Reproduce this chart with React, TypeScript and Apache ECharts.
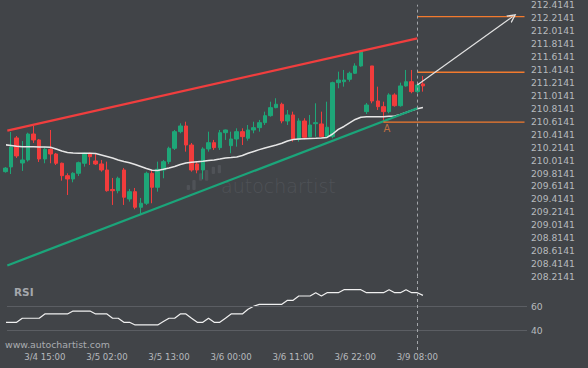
import React, { useEffect, useRef } from "react";
import * as echarts from "echarts";

// ---------- data ----------
const OFFSET = 0.0141; // tick labels are n*0.2 + 0.0141
const PRICE_MIN = 208.2141;
const PRICE_MAX = 212.4141;
const PRICE_STEP = 0.2;

const SESSIONS: Array<[number, number, number]> = [
  [4, 8, 23],
  [5, 0, 23],
  [6, 0, 23],
  [8, 23, 23],
  [9, 0, 9],
];
const times: string[] = [];
SESSIONS.forEach(([d, h0, h1]) => {
  for (let h = h0; h <= h1; h++) times.push(`3/${d} ${String(h).padStart(2, "0")}:00`);
});
const LABEL_INDEX = [7, 18, 29, 40, 51, 62, 73];

const opens = [
  209.835, 209.908, 210.356, 209.969, 210.016, 210.417, 210.325, 210.031, 210.181, 210.108,
  209.965, 209.773, 209.722, 209.81, 209.965, 210.119, 210.0, 209.954, 209.861, 209.56,
  209.541, 209.861, 209.413, 209.526, 209.285, 209.347, 209.81, 209.594, 209.861, 209.99,
  210.196, 210.453, 210.541, 210.247, 209.954, 209.861, 210.186, 210.283, 210.206, 210.437,
  210.237, 210.34, 210.453, 210.351, 210.479, 210.515, 210.592, 210.7, 210.824, 210.876,
  210.618, 210.711, 210.335, 210.618, 210.376, 210.576, 210.572, 210.376, 210.376, 211.21,
  211.225, 211.262, 211.355, 211.468, 210.762, 211.468, 210.927, 210.839, 210.762, 211.02,
  210.854, 211.159, 211.225, 211.071, 211.19,
];
const closes = [
  209.89, 210.216, 210.078, 210.016, 210.417, 210.325, 210.031, 210.181, 210.108, 209.965,
  209.773, 209.722, 209.81, 209.974, 210.119, 210.067, 209.954, 209.861, 209.541, 209.541,
  209.733, 209.44, 209.526, 209.285, 209.347, 209.81, 209.594, 209.872, 209.99, 210.196,
  210.453, 210.541, 210.247, 209.861, 209.861, 210.186, 210.283, 210.206, 210.437, 210.479,
  210.34, 210.453, 210.376, 210.479, 210.515, 210.592, 210.7, 210.824, 210.876, 210.618,
  210.711, 210.335, 210.618, 210.366, 210.556, 210.592, 210.376, 210.521, 211.21, 211.251,
  211.251, 211.355, 211.468, 211.688, 210.865, 210.927, 210.839, 210.762, 211.02, 210.854,
  211.159, 211.225, 211.071, 211.174, 211.159,
];
const lows = [
  209.82, 209.799, 210.047, 209.846, 209.99, 210.278, 209.985, 209.965, 209.965, 209.938,
  209.696, 209.475, 209.671, 209.768, 209.912, 209.938, 209.938, 209.835, 209.526, 209.321,
  209.501, 209.321, 209.372, 209.254, 209.181, 209.321, 209.347, 209.526, 209.733, 209.954,
  210.17, 210.428, 210.144, 209.835, 209.81, 209.718, 210.144, 210.17, 210.17, 210.325,
  210.119, 210.221, 210.247, 210.314, 210.428, 210.453, 210.556, 210.685, 210.814, 210.582,
  210.556, 210.299, 210.299, 210.335, 210.366, 210.376, 210.376, 210.366, 210.351, 211.123,
  211.148, 211.225, 211.344, 211.457, 210.726, 210.891, 210.788, 210.6, 210.737, 210.839,
  210.839, 211.148, 211.046, 211.046, 211.071,
];
const highs = [
  209.905, 210.448, 210.386, 210.309, 210.437, 210.541, 210.34, 210.212, 210.479, 210.124,
  209.975, 209.81, 209.826, 209.99, 210.128, 210.128, 210.119, 210.016, 209.99, 209.738,
  209.758, 209.892, 209.568, 209.583, 209.429, 209.835, 209.861, 209.99, 210.016, 210.221,
  210.479, 210.582, 210.607, 210.278, 209.99, 210.212, 210.453, 210.325, 210.479, 210.485,
  210.453, 210.505, 210.505, 210.556, 210.607, 210.634, 210.762, 210.916, 210.969, 210.901,
  210.788, 210.762, 210.66, 210.66, 210.711, 210.891, 210.762, 210.916, 211.225, 211.38,
  211.406, 211.38, 211.509, 211.715, 210.896, 211.468, 211.148, 210.916, 211.046, 211.046,
  211.21, 211.406, 211.406, 211.174, 211.313,
];
const movingAverage = [
  210.25, 210.24, 210.229, 210.221, 210.221, 210.22, 210.216, 210.216, 210.212, 210.186,
  210.155, 210.131, 210.124, 210.119, 210.119, 210.118, 210.116, 210.093, 210.07, 210.047,
  210.016, 209.992, 209.974, 209.946, 209.915, 209.884, 209.857, 209.853, 209.872, 209.892,
  209.915, 209.946, 209.969, 209.98, 209.989, 209.997, 210.008, 210.016, 210.031, 210.047,
  210.054, 210.062, 210.085, 210.119, 210.147, 210.175, 210.201, 210.224, 210.247, 210.274,
  210.309, 210.332, 210.34, 210.345, 210.348, 210.351, 210.355, 210.363, 210.417, 210.487,
  210.533, 210.587, 210.641, 210.675, 210.683, 210.683, 210.683, 210.683, 210.69, 210.695,
  210.718, 210.749, 210.78, 210.806, 210.826,
];
const rsi = [
  46.9, 46.9, 46.9, 50.2, 50.2, 50.2, 50.2, 53.7, 53.7, 53.7,
  53.7, 53.7, 56.1, 56.1, 56.1, 56.1, 53.7, 53.7, 53.7, 50.2,
  50.2, 46.9, 46.9, 44.7, 44.7, 44.7, 44.7, 44.7, 47.5, 50.2,
  50.2, 53.7, 53.7, 50.2, 46.9, 46.9, 50.2, 46.9, 46.9, 50.2,
  53.7, 53.7, 53.7, 57.5, 60.0, 61.6, 61.6, 61.6, 61.6, 61.6,
  64.9, 64.9, 68.4, 68.4, 68.4, 71.1, 68.4, 71.1, 71.1, 71.1,
  73.6, 73.6, 73.6, 73.6, 71.1, 71.1, 71.1, 71.1, 73.6, 71.1,
  71.1, 73.6, 71.1, 71.1, 68.9,
];
const resistanceLine = [
  [0.344, 210.468],
  [73, 211.895],
];
const supportLine = [
  [0.344, 208.386],
  [73, 210.814],
];
const LEVEL_END = 92;
const targetLevel = { from: 73, value: 212.23 };
const upperLevel = { from: 73, value: 211.37 };
const lowerLevel = { from: 67, value: 210.6 };
const projection = [
  [73, 211.174],
  [89.9, 212.23],
];
const pointA = [67.6, 210.6];
const currentIndex = 73;
const rsiLevels = [60, 40];

// ---------- styles ----------
const BG = "#414448";
const GREEN = "#1ea678";
const RED = "#f23c3c";
const ORANGE = "#f27a2e";
const LABEL = "#b7babe";
const FONT = "DejaVu Sans";
const X_MIN = 0.29;
const X_MAX = 92.44;

const CHEVRON = "path://M0,10 L5,0 L10,10 L8.4,10 L5,3.2 L1.6,10 Z";

function levelSeries(level: { from: number; value: number }) {
  return {
    type: "line",
    xAxisIndex: 0,
    yAxisIndex: 0,
    data: [
      [level.from, level.value - OFFSET],
      [LEVEL_END, level.value - OFFSET],
    ],
    showSymbol: false,
    silent: true,
    lineStyle: { color: ORANGE, width: 1.4 },
    z: 4,
  };
}

export default function App() {
  const ref = useRef<HTMLDivElement>(null);

  useEffect(() => {
    if (!ref.current) return;
    const chart = echarts.init(ref.current, undefined, { renderer: "svg" });

    const candles = opens.map((o, i) => [i, o - OFFSET, closes[i] - OFFSET, lows[i] - OFFSET, highs[i] - OFFSET]);

    const wmBars = [
      [186.7, 185, 3.3, 5],
      [192.3, 180, 3.4, 10],
      [199, 173.3, 3.3, 7.4],
      [205, 170, 3.3, 10.7],
      [211.7, 166.7, 3.3, 7.3],
      [217.7, 165, 3.3, 8.3],
    ];

    chart.setOption({
      animation: false,
      backgroundColor: BG,
      grid: [
        { left: 7, width: 520, top: 4.7, height: 271.9 },
        { left: 7, width: 520, top: 276.6, height: 73.4 },
      ],
      xAxis: [
        { type: "value", gridIndex: 0, min: X_MIN, max: X_MAX, show: false },
        {
          type: "value",
          gridIndex: 1,
          min: X_MIN,
          max: X_MAX,
          axisLine: { show: false },
          axisTick: { show: false },
          splitLine: { show: false },
          axisLabel: {
            customValues: LABEL_INDEX,
            formatter: (v: number) => times[Math.round(v)],
            color: LABEL,
            fontSize: 8.6,
            fontFamily: FONT,
            margin: 2,
          },
        },
      ],
      yAxis: [
        {
          type: "value",
          gridIndex: 0,
          position: "right",
          min: PRICE_MIN - OFFSET,
          max: PRICE_MAX - OFFSET,
          interval: PRICE_STEP,
          axisLine: { show: false },
          axisTick: { show: false },
          splitLine: { show: false },
          axisLabel: {
            formatter: (v: number) => (v + OFFSET).toFixed(4),
            color: LABEL,
            fontSize: 9.2,
            fontFamily: FONT,
            margin: 4,
          },
        },
        {
          type: "value",
          gridIndex: 1,
          position: "right",
          min: 24.2,
          max: 84.3,
          axisLine: { show: false },
          axisTick: { show: false },
          splitLine: { show: false },
          axisLabel: { show: false },
        },
      ],
      graphic: [
        ...wmBars.map(([x, y, w, h]) => ({
          type: "rect",
          shape: { x, y, width: w, height: h, r: 1 },
          style: { fill: "#4f5257" },
          silent: true,
        })),
        {
          type: "text",
          left: 221,
          top: 176,
          style: { text: "autochartist", fill: "#4f5257", font: `300 19px '${FONT}'` },
          silent: true,
        },
        {
          type: "text",
          left: 14,
          top: 286,
          style: { text: "RSI", fill: "#a4a7ac", font: `bold 10.5px '${FONT}'` },
          silent: true,
        },
        {
          type: "text",
          left: 5,
          top: 339.5,
          style: { text: "www.autochartist.com", fill: "#a9acb0", font: `9.4px '${FONT}'` },
          silent: true,
        },
      ],
      series: [
        {
          type: "candlestick",
          xAxisIndex: 0,
          yAxisIndex: 0,
          data: candles,
          barWidth: 4,
          itemStyle: {
            color: GREEN,
            color0: RED,
            borderColor: GREEN,
            borderColor0: RED,
            borderWidth: 1,
          },
          markLine: {
            silent: true,
            symbol: ["none", "none"],
            label: { show: false },
            lineStyle: { color: "#a3a6aa", type: [3, 3], width: 1 },
            data: [{ xAxis: currentIndex }],
          },
          z: 2,
        },
        {
          type: "line",
          xAxisIndex: 0,
          yAxisIndex: 0,
          data: movingAverage.map((v, i) => [i, v - OFFSET]),
          showSymbol: false,
          silent: true,
          lineStyle: { color: "#e6e6e6", width: 1.5 },
          z: 3,
        },
        {
          type: "line",
          xAxisIndex: 0,
          yAxisIndex: 0,
          data: resistanceLine.map(([x, v]) => [x, v - OFFSET]),
          showSymbol: false,
          silent: true,
          lineStyle: { color: "#f03e3e", width: 2.3 },
          z: 4,
        },
        {
          type: "line",
          xAxisIndex: 0,
          yAxisIndex: 0,
          data: supportLine.map(([x, v]) => [x, v - OFFSET]),
          showSymbol: false,
          silent: true,
          lineStyle: { color: "#1ba57a", width: 2.3 },
          z: 4,
        },
        levelSeries(targetLevel),
        {
          ...levelSeries(upperLevel),
          markLine: {
            silent: true,
            symbol: ["none", CHEVRON],
            symbolSize: [9, 9],
            label: { show: false },
            lineStyle: { color: "#e2e2e2", width: 1.2, type: "solid" },
            data: [
              [
                { coord: [projection[0][0], projection[0][1] - OFFSET] },
                { coord: [projection[1][0], projection[1][1] - OFFSET] },
              ],
            ],
          },
        },
        levelSeries(lowerLevel),
        {
          type: "scatter",
          xAxisIndex: 0,
          yAxisIndex: 0,
          data: [[pointA[0], pointA[1] - OFFSET]],
          symbolSize: 0,
          silent: true,
          label: {
            show: true,
            formatter: "A",
            position: "bottom",
            distance: 1,
            color: "#e07b3c",
            fontSize: 10,
            fontFamily: FONT,
          },
          z: 5,
        },
        {
          type: "line",
          xAxisIndex: 1,
          yAxisIndex: 1,
          data: rsi.map((v, i) => [i, v]),
          showSymbol: false,
          silent: true,
          lineStyle: { color: "#f0f0f0", width: 1.2 },
          markLine: {
            silent: true,
            symbol: ["none", "none"],
            data: [
              ...rsiLevels.map((v) => ({
                yAxis: v,
                lineStyle: { color: "#5b5e63", width: 1, type: "solid" },
                label: {
                  show: true,
                  position: "end",
                  formatter: String(v),
                  color: LABEL,
                  fontSize: 9.2,
                  fontFamily: FONT,
                  distance: 4,
                },
              })),
              {
                xAxis: currentIndex,
                lineStyle: { color: "#a3a6aa", type: [3, 3], width: 1 },
                label: { show: false },
              },
            ],
          },
          z: 3,
        },
      ],
    });

    return () => chart.dispose();
  }, []);

  return <div ref={ref} style={{ width: 588, height: 368, position: "absolute", left: 0, top: 0 }} />;
}
